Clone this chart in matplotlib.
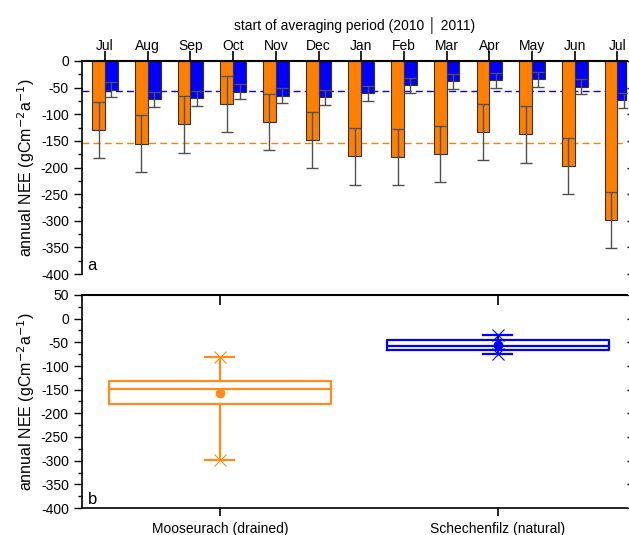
import numpy as np
import matplotlib.pyplot as plt
from matplotlib.ticker import MultipleLocator

plt.rcParams['font.family'] = ['Liberation Sans', 'DejaVu Sans']
plt.rcParams['axes.unicode_minus'] = False

# 数据：月份（起始月）与年度 NEE
months = ['Jul', 'Aug', 'Sep', 'Oct', 'Nov', 'Dec', 'Jan', 'Feb', 'Mar', 'Apr', 'May', 'Jun', 'Jul']
drained = [-130, -155, -119, -81, -115, -148, -179, -180, -175, -133, -138, -197, -299]
drained_err = [53, 53, 53, 53, 53, 53, 53, 53, 53, 53, 53, 53, 53]
natural = [-54, -72, -70, -58, -65, -68, -61, -46, -38, -36, -34, -48, -74]
natural_err = [14, 14, 14, 14, 14, 14, 14, 14, 14, 14, 14, 14, 14]
drained_mean = -154
natural_mean = -56

# 箱线图统计值
sites = ['Mooseurach (drained)', 'Schechenfilz (natural)']
box_med = [-148, -58]
box_q1 = [-180, -67]
box_q3 = [-131, -45]
box_lo = [-299, -74]
box_hi = [-80, -34]
box_mean = [-157, -55]

c_or = '#FF8000'
c_bl = '#0000FF'
c_or2 = '#FF8C1A'

fig = plt.figure(figsize=(6.29, 5.35), dpi=100)
W, H = 629, 535
L, R = 82, 627

# ---- a ----
ax1 = fig.add_axes([L/W, 1-274/H, (R-L)/W, 213/H])
x = np.arange(len(months))
w = 0.3
ax1.axhline(drained_mean, color=c_or, ls='--', lw=1, dashes=(5, 3), zorder=1)
ax1.axhline(natural_mean, color=c_bl, ls='--', lw=1, dashes=(5, 3), zorder=1)
ax1.bar(x - w/2, drained, w, color=c_or, edgecolor='#333333', lw=0.8, zorder=2)
ax1.bar(x + w/2, natural, w, color=c_bl, edgecolor='#333333', lw=0.8, zorder=2)
ax1.errorbar(x - w/2, drained, yerr=drained_err, fmt='none', ecolor='#505050',
             elinewidth=1, capsize=4, capthick=1, zorder=3)
ax1.errorbar(x + w/2, natural, yerr=natural_err, fmt='none', ecolor='#505050',
             elinewidth=1, capsize=4, capthick=1, zorder=3)
ax1.set_xlim(-0.54, -0.54 + (R-L)/42.7)
ax1.set_ylim(-400, 0)
ax1.xaxis.tick_top()
ax1.set_xticks(x)
ax1.set_xticklabels(months, fontsize=10)
ax1.tick_params(axis='x', direction='out', length=7, width=1.2, pad=-1)
ax1.xaxis.set_label_position('top')
ax1.set_xlabel('start of averaging period (2010 │ 2011)', fontsize=10, labelpad=6)
ax1.yaxis.set_major_locator(MultipleLocator(50))
ax1.yaxis.set_minor_locator(MultipleLocator(25))
ax1.tick_params(axis='y', which='major', direction='out', length=6, width=1, labelsize=10)
ax1.tick_params(axis='y', which='minor', direction='out', length=3, width=1)
ax1.tick_params(axis='y', which='major', right=True)
ax1.spines['bottom'].set_visible(False)
ax1.spines['right'].set_visible(False)
ax1.spines['top'].set_linewidth(1.5)
ax1.spines['left'].set_linewidth(1.2)
ax1.set_ylabel('annual NEE (gCm$^{-2}$a$^{-1}$)', fontsize=11.5, labelpad=3)
ax1.text(0.01, 0.02, 'a', transform=ax1.transAxes, fontsize=12)

# ---- b ----
ax2 = fig.add_axes([L/W, 1-508/H, (R-L)/W, 213/H])
cols = [c_or2, c_bl]
for i in range(2):
    c = cols[i]
    st = dict(med=box_med[i], q1=box_q1[i], q3=box_q3[i],
              whislo=box_lo[i], whishi=box_hi[i], mean=box_mean[i])
    ax2.bxp([st], positions=[i + 1], widths=0.8, capwidths=0.105, showmeans=True,
            showfliers=False,
            boxprops=dict(color=c, lw=1.6), medianprops=dict(color=c, lw=1.6),
            whiskerprops=dict(color=c, lw=1.6), capprops=dict(color=c, lw=1.6),
            meanprops=dict(marker='o', markerfacecolor=c, markeredgecolor=c, markersize=6))
    ax2.plot([i + 1, i + 1], [box_lo[i], box_hi[i]], ls='none', marker='x', color=c,
             markersize=9, mew=0.8)
ax2.set_xlim(0.504, 0.504 + (R-L)/278)
ax2.set_ylim(-400, 50)
ax2.set_xticks([1, 2])
ax2.set_xticklabels(sites, fontsize=10)
ax2.tick_params(axis='x', direction='out', length=6, width=1.2, pad=4)
top2 = ax2.secondary_xaxis('top')
top2.set_xticks([1, 2])
top2.tick_params(axis='x', direction='in', length=7, width=1.2, labeltop=False)
top2.spines['top'].set_linewidth(1.5)
ax2.yaxis.set_major_locator(MultipleLocator(50))
ax2.yaxis.set_minor_locator(MultipleLocator(25))
ax2.tick_params(axis='y', which='major', direction='out', length=6, width=1, labelsize=10,
                right=True)
ax2.tick_params(axis='y', which='minor', direction='out', length=3, width=1)
ax2.spines['right'].set_visible(False)
for s in ['left', 'bottom', 'top']:
    ax2.spines[s].set_linewidth(1.2)
ax2.set_ylabel('annual NEE (gCm$^{-2}$a$^{-1}$)', fontsize=11.5, labelpad=3)
ax2.text(0.01, 0.02, 'b', transform=ax2.transAxes, fontsize=12)

fig.savefig('out.png', dpi=100)
